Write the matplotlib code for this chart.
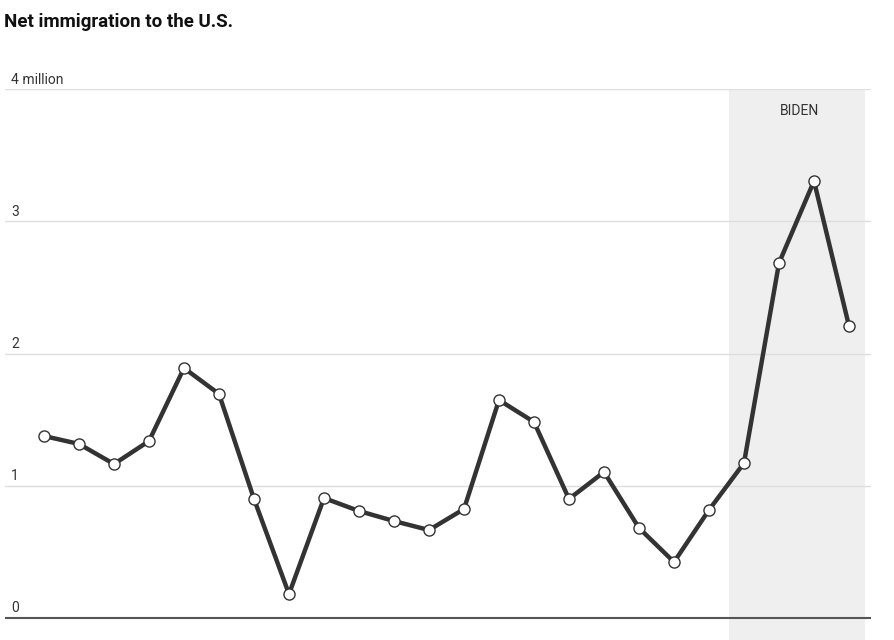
import matplotlib
matplotlib.use("Agg")
import matplotlib.pyplot as plt
from matplotlib import font_manager

years = list(range(2001, 2025))
net_immigration = [1.376, 1.316, 1.164, 1.338, 1.890, 1.694, 0.900, 0.181,
                   0.907, 0.809, 0.733, 0.665, 0.824, 1.648, 1.482, 0.900,
                   1.104, 0.681, 0.423, 0.817, 1.172, 2.684, 3.304, 2.208]
y_ticks = [0, 1, 2, 3, 4]
y_tick_labels = ["0", "1", "2", "3", "4 million"]
biden_span = (2020.57, 2024.46)
biden_label = "BIDEN"
title = "Net immigration to the U.S."

names = {f.name for f in font_manager.fontManager.ttflist}
cond = "Liberation Sans Narrow" if "Liberation Sans Narrow" in names else "Roboto"

W, H = 895, 640
fig = plt.figure(figsize=(W / 100, H / 100), dpi=100)
ax_left, ax_right = 5, 871
ax_top, ax_bottom = 89, 640
ax = fig.add_axes([ax_left / W, 1 - ax_bottom / H, (ax_right - ax_left) / W, (ax_bottom - ax_top) / H])

px_per_unit_y = (618 - 89) / 4
ax.set_ylim(-(640 - 618) / px_per_unit_y, 4)
px_per_year = 35.0
x0 = years[0]
ax.set_xlim(x0 - (44 - ax_left) / px_per_year, years[-1] + (ax_right - 849) / px_per_year)

ax.axvspan(biden_span[0], biden_span[1], color="#efefef", zorder=0, lw=0)
for t in y_ticks[1:]:
    ax.axhline(t, color="#dedede", lw=1.0, zorder=1)
ax.axhline(0, color="#555555", lw=1.5, zorder=1)

ax.plot(years, net_immigration, color="#333333", lw=3.2, zorder=3,
        solid_joinstyle="round", solid_capstyle="round")
ax.plot(years, net_immigration, linestyle="none", marker="o", ms=8.0,
        mfc="white", mec="#333333", mew=1.0, zorder=4)

for t, lab in zip(y_ticks, y_tick_labels):
    ax.annotate(lab, xy=(0, t), xycoords=("axes fraction", "data"),
                xytext=(4.5, 1.8), textcoords="offset points",
                ha="left", va="bottom", fontsize=10, color="#333333",
                family=[cond, "DejaVu Sans"])

ax.annotate(biden_label, xy=((biden_span[0] + biden_span[1]) / 2, 4), xycoords="data",
            xytext=(2, -16), textcoords="offset points", ha="center", va="center",
            fontsize=10, color="#333333", family=[cond, "DejaVu Sans"])

fig.text(4 / W, 1 - 22 / H, title, ha="left", va="center", fontsize=13.5,
         fontweight="bold", color="#111111", family=["Roboto", "DejaVu Sans"])

for s in ax.spines.values():
    s.set_visible(False)
ax.set_xticks([])
ax.set_yticks([])
ax.patch.set_alpha(0)

fig.savefig("out.png", dpi=100)
